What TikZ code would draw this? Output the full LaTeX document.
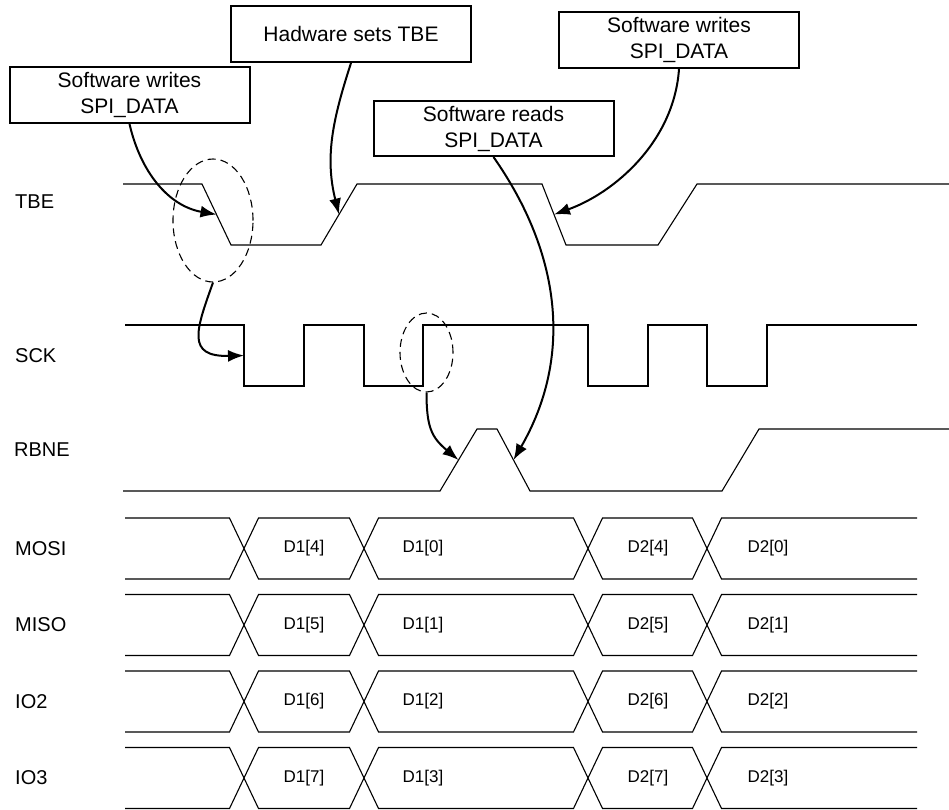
\documentclass[tikz,border=0pt]{standalone}
\usepackage{fontspec}
\setmainfont{Liberation Sans}
\usetikzlibrary{arrows.meta,shapes.geometric}
\tikzset{
  wave/.style={line width=1.1pt,line join=miter},
  msgbox/.style={draw,line width=2pt,align=center,minimum width=240pt,minimum height=56pt,inner sep=0pt,font=\fontsize{21}{26}\selectfont},
  siglabel/.style={anchor=west,inner sep=0pt,font=\fontsize{20}{24}\selectfont},
  buslabel/.style={inner sep=0pt,font=\fontsize{17}{20}\selectfont},
  watch/.style={ellipse,draw,dash pattern=on 8pt off 5pt,line width=1.1pt,inner sep=0pt},
  cause/.style={-{Latex[length=16pt,width=12pt]},line width=2pt}
}

\begin{document}
\begin{tikzpicture}[x=1pt,y=1pt]
  \useasboundingbox (0,0) rectangle (949,-809);

  \node[msgbox] (swwriteA) at (129.5,-95) {Software writes\\SPI\_DATA};
  \node[msgbox] (hwsetTBE) at (351,-34) {Hadware sets TBE};
  \node[msgbox,minimum height=55pt] (swread) at (493.5,-128.5) {Software reads\\SPI\_DATA};
  \node[msgbox] (swwriteB) at (679,-40) {Software writes\\SPI\_DATA};

  \node[siglabel] (lblTBE) at (15,-202) {TBE};
  \node[siglabel] (lblSCK) at (15,-356) {SCK};
  \node[siglabel] (lblRBNE) at (14,-450) {RBNE};

  \draw[wave] (123,-184) -- (202,-184) -- (231,-245) -- (321,-245) -- (357,-184)
    -- (542,-184) -- (566,-245) -- (658,-245) -- (697,-184) -- (949,-184);
  \draw[wave] (125,-325) -- (244,-325) -- (244,-386) -- (304,-386) -- (304,-325)
    -- (364,-325) -- (364,-386) -- (423,-386) -- (423,-325) -- (588,-325)
    -- (588,-386) -- (648,-386) -- (648,-325) -- (707,-325) -- (707,-386)
    -- (767,-386) -- (767,-325) -- (917,-325);
  \draw[wave] (123,-491) -- (440,-491) -- (477,-429) -- (497,-429) -- (530,-491)
    -- (722,-491) -- (759,-429) -- (949,-429);

  \coordinate (tbefallA) at (216.5,-214.5);
  \coordinate (tberiseA) at (339,-214.5);
  \coordinate (tbefallB) at (554,-214.5);
  \coordinate (sckfallA) at (244,-355.5);
  \coordinate (rbnerise) at (458.5,-460);
  \coordinate (rbnefall) at (513.5,-460);

  \node[watch,minimum width=80pt,minimum height=123pt] (watchTBE) at (213,-220.5) {};
  \node[watch,minimum width=53pt,minimum height=79pt] (watchSCK) at (426.5,-352.5) {};

  \foreach \sig/\c/\ba/\bb in {MOSI/548.5/4/0,MISO/625/5/1,IO2/701.5/6/2,IO3/778/7/3} {
    \pgfmathsetmacro\hi{-\c+30.5}
    \pgfmathsetmacro\lo{-\c-30.5}
    \node[siglabel] (lbl\sig) at (15,-\c) {\sig};
    \draw[wave] (125,\hi) -- (229.5,\hi) -- (258.5,\lo) -- (349.5,\lo) -- (378.5,\hi)
      -- (573.5,\hi) -- (602.5,\lo) -- (692.5,\lo) -- (721.5,\hi) -- (917,\hi);
    \draw[wave] (125,\lo) -- (229.5,\lo) -- (258.5,\hi) -- (349.5,\hi) -- (378.5,\lo)
      -- (573.5,\lo) -- (602.5,\hi) -- (692.5,\hi) -- (721.5,\lo) -- (917,\lo);
    \node[buslabel] (\sig-d1a) at (304,-\c) {D1[\ba]};
    \node[buslabel] (\sig-d1b) at (423,-\c) {D1[\bb]};
    \node[buslabel] (\sig-d2a) at (648,-\c) {D2[\ba]};
    \node[buslabel] (\sig-d2b) at (768,-\c) {D2[\bb]};
  }

  \draw[cause] (swwriteA.south) to[out=-77,in=170] (tbefallA);
  \draw[cause] (hwsetTBE.south) to[out=-108,in=104] (tberiseA);
  \draw[cause] (swread.south) to[out=-55,in=60] (rbnefall);
  \draw[cause] (swwriteB.south) .. controls (674,-142) and (614,-193) .. (tbefallB);
  \draw[cause] (watchTBE.south) .. controls (196,-330) and (186,-357) .. (sckfallA);
  \draw[cause] (watchSCK.south) to[out=-90,in=140,looseness=1.2] (rbnerise);
\end{tikzpicture}
\end{document}
